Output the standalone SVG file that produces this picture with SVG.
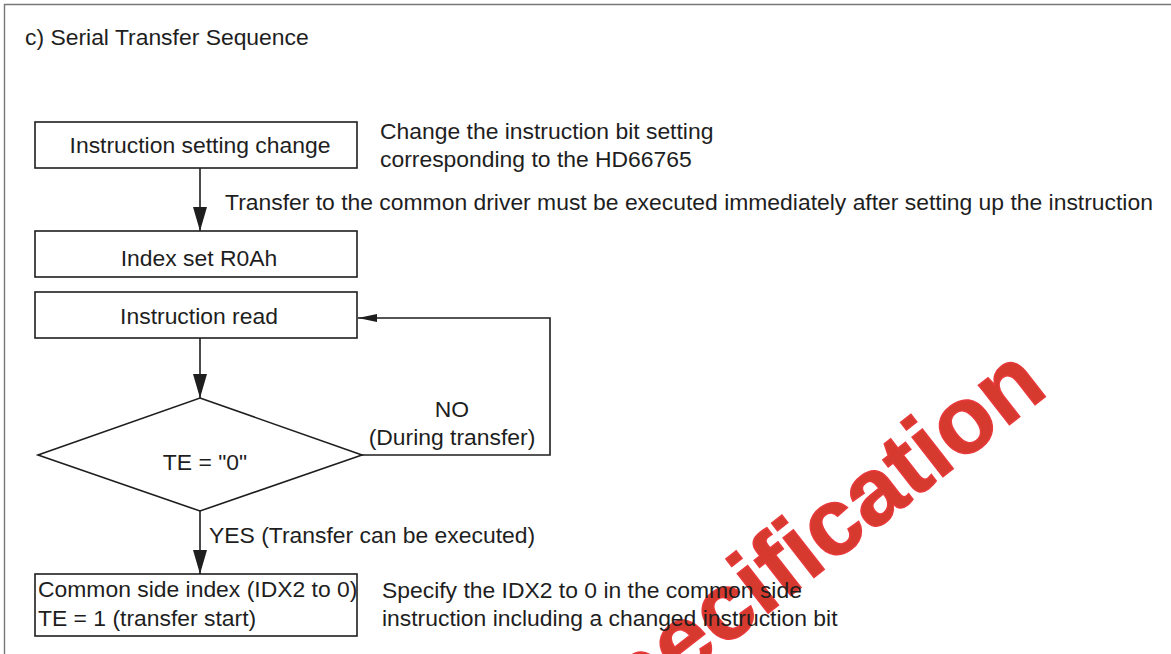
<svg xmlns="http://www.w3.org/2000/svg" width="1171" height="654" viewBox="0 0 1171 654">
<defs>
<style>
text{font-family:"Liberation Sans",Arial,sans-serif;font-size:22.9px;fill:#1e1e1e}
.c{text-anchor:middle}
.box{fill:#fff;stroke:#1e1e1e;stroke-width:1.6}
.ln{fill:none;stroke:#1e1e1e;stroke-width:1.6}
.wm{font-family:"Liberation Sans",Arial,sans-serif;font-weight:bold;font-size:95px;fill:#d63a2f;stroke:#e8393b;stroke-width:1.5}
</style>
<marker id="ah" markerUnits="userSpaceOnUse" markerWidth="24" markerHeight="14" refX="24" refY="7" orient="auto"><path d="M0,0 L24,7 L0,14 z" fill="#1e1e1e"/></marker>
<marker id="ahs" markerUnits="userSpaceOnUse" markerWidth="19" markerHeight="8" refX="19" refY="4" orient="auto"><path d="M0,0 L19,4 L0,8 z" fill="#1e1e1e"/></marker>
</defs>
<rect width="1171" height="654" fill="#fff"/>
<path d="M4.5,654 V4.5 H1171" fill="none" stroke="#777" stroke-width="1.4"/>
<text class="wm" x="1050" y="393" text-anchor="end" transform="rotate(-38 1050 393)">Specification</text>
<text x="25" y="45">c) Serial Transfer Sequence</text>
<g id="connectors">
<path class="ln" d="M200,168 V231" marker-end="url(#ah)"/>
<path class="ln" d="M200,338 V398" marker-end="url(#ah)"/>
<path class="ln" d="M362,455 H550 V318 H358" marker-end="url(#ahs)"/>
<path class="ln" d="M200,511 V574" marker-end="url(#ah)"/>
<text x="225" y="210">Transfer to the common driver must be executed immediately after setting up the instruction</text>
<text class="c" x="452" y="417">NO</text>
<text class="c" x="452" y="445">(During transfer)</text>
<text x="209" y="543">YES (Transfer can be executed)</text>
</g>
<g id="n1">
<rect class="box" x="35" y="122" width="322" height="46"/>
<text class="c" x="200" y="153">Instruction setting change</text>
<text x="380" y="139">Change the instruction bit setting</text>
<text x="380" y="167">corresponding to the HD66765</text>
</g>
<g id="n2">
<rect class="box" x="35" y="231" width="322" height="46"/>
<text class="c" x="199" y="266">Index set R0Ah</text>
</g>
<g id="n3">
<rect class="box" x="35" y="292" width="322" height="46"/>
<text class="c" x="199" y="324">Instruction read</text>
</g>
<g id="n4">
<polygon class="box" points="200,398 362,455 200,511 38,455"/>
<text class="c" x="205" y="470">TE = "0"</text>
</g>
<g id="n5">
<rect class="box" x="35" y="574" width="322" height="62"/>
<text x="38" y="597">Common side index (IDX2 to 0)</text>
<text x="38" y="626">TE = 1 (transfer start)</text>
<text x="382" y="598">Specify the IDX2 to 0 in the common side</text>
<text x="382" y="626">instruction including a changed instruction bit</text>
</g>
</svg>
